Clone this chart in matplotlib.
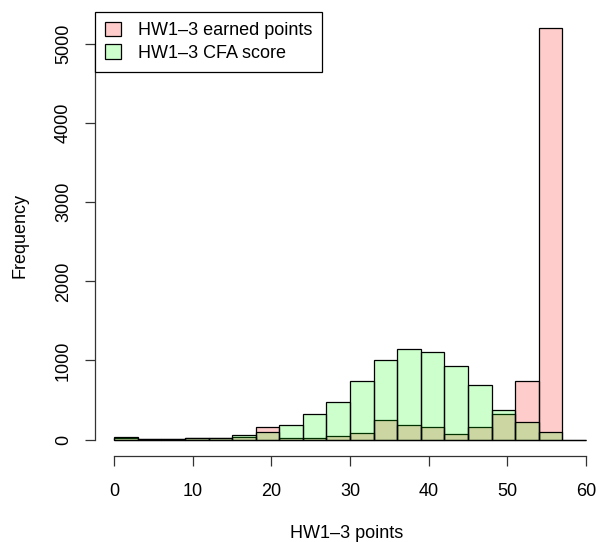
import matplotlib
matplotlib.use("Agg")
import matplotlib.pyplot as plt
from matplotlib.patches import Patch
import numpy as np

plt.rcParams['font.family'] = ['Liberation Sans', 'DejaVu Sans']

bin_edges = list(range(0, 61, 3))
earned_counts = [25, 3, 3, 20, 15, 35, 156, 15, 25, 46, 84, 252, 185, 160, 76, 156, 328, 741, 5200, 0]
cfa_counts = [30, 5, 5, 20, 15, 60, 97, 181, 324, 476, 741, 1010, 1149, 1107, 934, 686, 370, 223, 97, 0]
x_ticks = [0, 10, 20, 30, 40, 50, 60]
y_ticks = [0, 1000, 2000, 3000, 4000, 5000]
labels = ["HW1\u20133 earned points", "HW1\u20133 CFA score"]

W, H = 601, 542
fig = plt.figure(figsize=(W / 100, H / 100), dpi=100)
left_px, right_px, top_px, bot_px = 95.3, 604.8, 11.7, 456.0
ax = fig.add_axes([left_px / W, 1 - bot_px / H, (right_px - left_px) / W, (bot_px - top_px) / H])

pink = (1, 0, 0, 0.2)
green = (0, 1, 0, 0.2)
lefts = bin_edges[:-1]
widths = np.diff(bin_edges)
ax.bar(lefts, earned_counts, width=widths, align='edge', facecolor=pink, edgecolor='black', linewidth=0.9)
ax.bar(lefts, cfa_counts, width=widths, align='edge', facecolor=green, edgecolor='black', linewidth=0.9)

ymax = 5200
ax.set_xlim(-2.4, 62.4)
ax.set_ylim(-0.04 * ymax, 1.04 * ymax)

for s in ['top', 'right']:
    ax.spines[s].set_visible(False)
ax.spines['bottom'].set_bounds(0, 60)
ax.spines['left'].set_bounds(0, 5000)
for s in ['bottom', 'left']:
    ax.spines[s].set_linewidth(0.9)
    ax.spines[s].set_color('#333333')

fs = 13
ax.set_xticks(x_ticks)
ax.set_yticks(y_ticks)
ax.set_yticklabels([str(v) for v in y_ticks], rotation=90, va='center')
ax.tick_params(axis='both', direction='out', length=7.2, width=0.9, color='#333333', labelsize=fs)
ax.tick_params(axis='x', pad=12)
ax.tick_params(axis='y', pad=9.5)

fig.text(0.5 * (left_px + right_px) / W - 0.005, 1 - 534 / H, "HW1\u20133 points", ha='center', va='center', fontsize=fs)
fig.text(20 / W, 1 - 236 / H, "Frequency", ha='center', va='center', rotation=90, fontsize=fs)

handles = [Patch(facecolor=pink, edgecolor='black', linewidth=0.9),
           Patch(facecolor=green, edgecolor='black', linewidth=0.9)]
leg = ax.legend(handles, labels, loc='upper left', bbox_to_anchor=(0, 1), borderaxespad=0,
                fancybox=False, edgecolor='black', framealpha=1, fontsize=fs,
                handlelength=0.85, handleheight=0.85, handletextpad=0.95, borderpad=0.55,
                labelspacing=0.3)
leg.get_frame().set_linewidth(0.9)

fig.savefig("out.png", dpi=100)
